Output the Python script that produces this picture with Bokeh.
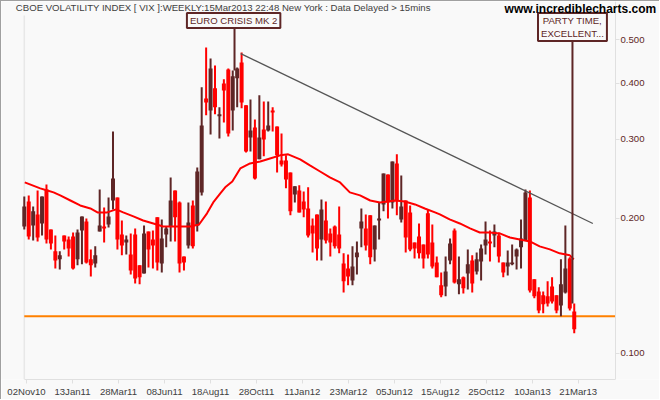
from bokeh.plotting import figure
from bokeh.models import Range1d, FixedTicker, NumeralTickFormatter, Label
from bokeh.embed import file_html
from bokeh.resources import INLINE

highs = [.2239,.2251,.2127,.2309,.2239,.2382,.1890,.1833,.1689,.1833,.1824,.1861,.1890,.2021,.2000,.1706,.1733,.2321,.2116,.2227,
 .3125,.2227,.1979,.1833,.1852,.1900,.1572,.1929,.1871,.1880,.2011,.1990,.1919,.2469,.2309,.2182,.1646,.2171,.2193,.2599,
 .3920,.4808,.4544,.4387,.3538,.4085,.4319,.4274,.4342,.4688,.3574,.3683,.3324,.3762,.3646,.3646,.3538,.3208,.3093,.2765,
 .2532,.2358,.2370,.2297,.2346,.2000,.2042,.2205,.2182,.1900,.1929,.2127,.1672,.1663,.1733,.1777,.2105,.2042,.2032,.1929,
 .2171,.2519,.2506,.2680,.2779,.2493,.2193,.2138,.1768,.1949,.1750,.2095,.1939,.1646,.1516,.1646,.1805,.1900,.1646,.1485,
 .1706,.1655,.1680,.1750,.1969,.1880,.1939,.1861,.1596,.1697,.1750,.1715,.1990,.2321,.2309,.1463,.1404,.1375,.1448,.1478,
 .1348,.1621,.1929,.1638,.1293]
opens = [.1919,.2182,.1929,.2042,.1949,.2321,.1890,.1689,.1621,.1833,.1795,.1824,.1621,.1880,.1969,.1621,.1588,.1871,.1919,.1939,
 .2193,.2227,.1842,.1768,.1663,.1842,.1572,.1508,.1871,.1795,.2011,.1588,.1842,.1919,.2309,.2171,.1646,.1741,.2138,.1929,
 .2286,.3702,.3481,.3900,.3379,.4000,.4297,.3481,.4106,.4454,.3574,.3030,.3191,.2709,.3157,.3141,.3481,.3208,.2693,.2693,
 .2532,.2262,.2309,.2182,.2105,.1929,.2042,.1795,.1979,.1852,.1919,.1842,.1588,.1547,.1455,.1638,.1900,.1900,.2032,.1706,
 .1979,.2149,.2506,.2171,.2652,.1990,.2193,.2063,.1768,.1824,.1750,.2053,.1768,.1596,.1419,.1411,.1612,.1880,.1426,.1478,
 .1508,.1612,.1523,.1604,.1741,.1777,.1833,.1833,.1596,.1563,.1580,.1646,.1724,.1786,.2227,.1463,.1375,.1348,.1341,.1411,
 .1348,.1280,.1368,.1629,.1241]
closes = [.2127,.1824,.2074,.1814,.2239,.1795,.1759,.1612,.1655,.1777,.1715,.1547,.1861,.2021,.1596,.1572,.1655,.1929,.1900,.2021,
 .2456,.1795,.1741,.1795,.1531,.1470,.1478,.1852,.1706,.1741,.1596,.1805,.1900,.2193,.2011,.1588,.1596,.1959,.1733,.2545,
 .3224,.3628,.4319,.3538,.3413,.3857,.3093,.4148,.4319,.3628,.2821,.3141,.2456,.3030,.3000,.3224,.3447,.2765,.2639,.2443,
 .2074,.2358,.2063,.2095,.1833,.1852,.1715,.2095,.1786,.1768,.1733,.1715,.1448,.1485,.1563,.1680,.1969,.1741,.1638,.1929,
 .2000,.2519,.2171,.2680,.2193,.2127,.1814,.1706,.1715,.1672,.1629,.1663,.1563,.1478,.1348,.1523,.1759,.1440,.1463,.1397,
 .1580,.1433,.1621,.1715,.1795,.1759,.1871,.1646,.1516,.1596,.1596,.1706,.1805,.2286,.1382,.1341,.1247,.1287,.1293,.1306,
 .1247,.1426,.1547,.1260,.1132]
lows = [.1890,.1795,.1786,.1777,.1833,.1759,.1706,.1547,.1539,.1706,.1646,.1539,.1572,.1580,.1588,.1485,.1555,.1871,.1768,.1910,
 .2095,.1706,.1655,.1663,.1500,.1433,.1426,.1508,.1555,.1547,.1531,.1516,.1724,.1777,.1777,.1516,.1531,.1715,.1715,.1871,
 .2251,.3396,.3077,.3413,.3015,.3274,.3046,.3141,.3538,.3520,.2807,.2821,.2443,.2709,.2751,.3125,.3125,.2532,.2612,.2334,
 .2032,.2171,.2063,.2011,.1814,.1680,.1612,.1612,.1759,.1646,.1715,.1672,.1368,.1419,.1419,.1500,.1724,.1697,.1580,.1604,
 .1795,.2074,.2000,.2105,.2032,.1959,.1680,.1689,.1629,.1629,.1547,.1629,.1547,.1478,.1334,.1341,.1580,.1433,.1355,.1361,
 .1389,.1368,.1500,.1455,.1663,.1604,.1724,.1596,.1478,.1493,.1572,.1539,.1547,.1786,.1368,.1327,.1229,.1229,.1273,.1293,
 .1229,.1210,.1361,.1247,.1109]
weeks = list(range(len(opens)))

ma_weeks = [0.1,3.6,5.2,6.6,8.1,10.4,12.6,14.9,16.5,18.7,20.7,22.3,24.6,26.8,29.1,31.3,34.0,37.4,39.4,41.2,42.6,44.2,45.3,46.9,48.7,
 50.9,53.2,55.4,57.7,59.5,62.2,64.4,66.7,68.9,71.2,73.4,75.7,78.0,80.2,83.6,85.8,88.1,90.3,92.6,93.7,95.9,98.2,100.5,102.7,104.9,
 107.2,109.5,111.7,114.0,116.2,118.5,120.7,123.0,123.9]
ma_values = [.2406,.2334,.2309,.2286,.2251,.2193,.2138,.2105,.2063,.2063,.2095,.2063,.2021,.1979,.1949,.1919,.1919,.1919,.1939,.2053,.2171,.2274,.2346,.2418,.2585,
 .2652,.2680,.2721,.2765,.2779,.2709,.2625,.2545,.2469,.2406,.2286,.2251,.2193,.2171,.2193,.2182,.2149,.2105,.2063,.2042,.1990,.1949,.1900,.1861,.1861,
 .1852,.1814,.1795,.1777,.1733,.1706,.1672,.1655,.1621]

trend_weeks = [48.8, 128.2]
trend_values = [.4660, .1949]
support_weeks = [0, 133.3]
support_value = [.1210, .1210]

tick_weeks = [0.5,10.87,21.24,31.6,41.98,52.35,62.7,73.1,83.46,93.8,104.2,114.6,124.9]
tick_labels = ["02Nov10","13Jan11","28Mar11","08Jun11","18Aug11","28Oct11","11Jan12","23Mar12","05Jun12","15Aug12","25Oct12","10Jan13","21Mar13"]
price_ticks = [0.1,0.2,0.3,0.4,0.5]

BROWN = "#5e2626"
RED = "#ff0000"
BG = "#f9f9f9"

p = figure(width=659, height=399, output_backend="svg", toolbar_location=None,
           x_range=Range1d(-5.14, 143.45), y_range=Range1d(0.0875, 0.609),
           y_axis_type="log", y_axis_location="right",
           min_border_left=0, min_border_right=0, min_border_top=0, min_border_bottom=21,
           background_fill_color=BG, border_fill_color=BG, outline_line_color=None,
           styles={"border-left": "1px solid #a0a0a0", "border-top": "1px solid #a0a0a0"})
p.grid.visible = False

AX = "#e0e0e0"
for ax in (p.xaxis[0], p.yaxis[0]):
    ax.axis_line_color = AX
    ax.major_tick_line_color = AX
    ax.minor_tick_line_color = None
    ax.major_tick_in = 0
    ax.major_tick_out = 4
    ax.major_label_text_font = "Liberation Sans"
    ax.major_label_text_font_size = "9.6px"
p.xaxis[0].ticker = FixedTicker(ticks=tick_weeks)
p.xaxis[0].major_label_overrides = dict(zip(tick_weeks, tick_labels))
p.xaxis[0].major_label_text_color = "#404040"
p.xaxis[0].major_label_standoff = 2
p.xaxis[0].bounds = (0, 133.3)
p.yaxis[0].ticker = FixedTicker(ticks=price_ticks)
p.yaxis[0].formatter = NumeralTickFormatter(format="0.000")
p.yaxis[0].major_label_text_color = BROWN
p.yaxis[0].major_label_standoff = 1
p.yaxis[0].fixed_location = 133.3

# left axis rule
p.segment([0], [0.0875], [0], [0.567], line_color="#e8e8e8", line_width=1.5)
p.line(support_weeks, support_value, line_color="#ff8000", line_width=2)

# candles, drawn in week order so later bars overlap earlier ones
for w, o, h, l, c in zip(weeks, opens, highs, lows, closes):
    col = RED if c < o else BROWN
    p.segment([w], [l], [w], [h], line_color=col, line_width=2)
    p.vbar([w], width=0.9, bottom=[min(o, c)], top=[max(o, c)], fill_color=col, line_color=None)

p.line(ma_weeks, ma_values, line_color=RED, line_width=2)
p.line(trend_weeks, trend_values, line_color="#555555", line_width=1.3)

# annotations
note_weeks = [47.4, 123.6]
note_tops = [.5329, .4986]
note_ends = [.4274, .1293]
p.segment(note_weeks, note_ends, note_weeks, note_tops, line_color=BROWN, line_width=2)

for wk, val, txt in [(47.2, .5525, "EURO CRISIS MK 2"), (123.6, .5343, "PARTY TIME,\nEXCELLENT...")]:
    p.add_layout(Label(x=wk, y=val, text=txt, text_align="center", text_baseline="middle",
                       text_font="Liberation Sans", text_font_size="9.6px", text_color=BROWN,
                       background_fill_color=BG, border_line_color=BROWN, border_line_width=2,
                       padding=(3, 2)))

p.add_layout(Label(x=-1.9, y=.5916, text="CBOE VOLATILITY INDEX [ VIX ]:WEEKLY:15Mar2013 22:48  New York : Data Delayed > 15mins",
                   text_align="left", text_baseline="middle", text_font="Liberation Sans",
                   text_font_size="9.6px", text_color="#404040"))
p.add_layout(Label(x=108.3, y=.5875, text="www.incrediblecharts.com", text_align="left", text_baseline="middle",
                   text_font="Liberation Sans", text_font_size="12px", text_font_style="bold", text_color="#000000"))

open("out.html", "w").write(file_html(p, INLINE))
